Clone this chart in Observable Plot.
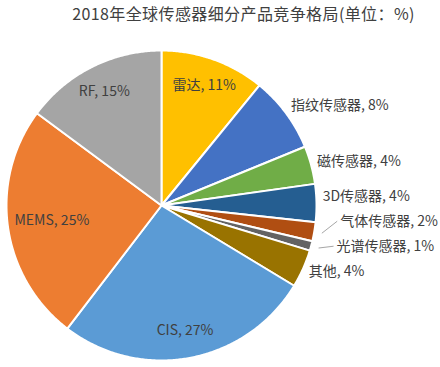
<!DOCTYPE html>
<html><head><meta charset="utf-8">
<script src="https://cdn.jsdelivr.net/npm/d3@7"></script>
<script src="https://cdn.jsdelivr.net/npm/@observablehq/plot@0.6"></script>
<style>
body{margin:0;background:#fff;font-family:"Noto Sans CJK SC",sans-serif;}
#title{width:440px;height:26px;line-height:26px;box-sizing:border-box;padding-left:47px;text-align:center;font-size:16px;letter-spacing:0.4px;color:#404040;white-space:nowrap;}
#chart svg{overflow:visible;display:block;}
</style></head><body>
<div id="title">2018年全球传感器细分产品竞争格局(单位：%)</div>
<div id="chart"></div>
<script>
// ---- data (clockwise from 12 o'clock) ----
const categories = ["雷达","指纹传感器","磁传感器","3D传感器","气体传感器","光谱传感器","其他","CIS","MEMS","RF"];
const shares = [11, 8, 4, 4, 2, 1, 4, 27, 25, 15];
// ---- styles ----
const colors = ["#FFC000","#4472C4","#70AD47","#255E91","#B04E12","#636363","#997300","#5B9BD5","#ED7D31","#A5A5A5"];

const W = 440, H = 341, R = 155, cx = 161, cy = 179;
const FONT = '"Noto Sans CJK SC", sans-serif';
const ctx = document.createElement("canvas").getContext("2d");
ctx.font = "14px " + FONT;
const tw = s => ctx.measureText(s).width;

const total = d3.sum(shares);
let acc = 0;
const slices = categories.map((name, i) => {
  const a0 = acc / total * 2 * Math.PI; acc += shares[i];
  const a1 = acc / total * 2 * Math.PI;
  return {name, value: shares[i], a0, a1, mid: (a0 + a1) / 2, label: `${name}, ${shares[i]}%`};
});

// wedge polygons in unit coordinates
const pts = [];
for (const s of slices) {
  pts.push({name: s.name, x: 0, y: 0});
  const n = Math.max(2, Math.ceil((s.a1 - s.a0) / (Math.PI / 360)));
  for (let k = 0; k <= n; k++) {
    const a = s.a0 + (s.a1 - s.a0) * k / n;
    pts.push({name: s.name, x: Math.sin(a), y: Math.cos(a)});
  }
  pts.push({name: s.name, x: 0, y: 0});
}

// label layout
const inside = [], outside = [], leaders = [];
for (const s of slices) {
  const sn = Math.sin(s.mid), cs = Math.cos(s.mid);
  if (s.value >= 10) {
    const w = tw(s.label), h = 14;
    let f = 0.82;
    if (Math.abs(sn) > 1e-6) f = Math.min(f, (R - 8 - w / 2) / (R * Math.abs(sn)));
    if (Math.abs(cs) > 1e-6) f = Math.min(f, (R - 8 - h / 2) / (R * Math.abs(cs)));
    inside.push({label: s.label, x: f * sn, y: f * cs});
  } else {
    const lead = s.value < 3;
    const rr = lead ? 1.17 : 1.04;
    const push = cs > 0 ? 7 * cs : 0;
    const o = {label: s.label, lead, mid: s.mid, x: rr * sn, py: cy - cs * rr * R - push};
    outside.push(o);
  }
}
// avoid overlaps (push upward)
outside.sort((a, b) => a.py - b.py);
for (let i = outside.length - 2; i >= 0; i--) {
  if (outside[i].py > outside[i + 1].py - 25) outside[i].py = outside[i + 1].py - 25;
}
for (const o of outside) {
  o.y = (cy - o.py) / R;
  if (o.lead) {
    leaders.push({x1: 1.05 * Math.sin(o.mid), y1: 1.05 * Math.cos(o.mid), x2: o.x - 3 / R, y2: o.y});
  }
}

const chart = Plot.plot({
  width: W, height: H,
  marginLeft: cx - R, marginRight: W - (cx + R),
  marginTop: cy - R, marginBottom: H - (cy + R),
  x: {domain: [-1, 1], axis: null},
  y: {domain: [-1, 1], axis: null},
  color: {domain: categories, range: colors},
  style: {fontFamily: FONT, fontSize: "14px", background: "white", overflow: "visible"},
  marks: [
    Plot.line(pts, {x: "x", y: "y", z: "name", fill: "name", stroke: "white", strokeWidth: 2, strokeLinejoin: "round", curve: "linear"}),
    Plot.link(leaders, {x1: "x1", y1: "y1", x2: "x2", y2: "y2", stroke: "#A6A6A6", strokeWidth: 1}),
    Plot.text(inside, {x: "x", y: "y", text: "label", fill: "#404040", fontSize: 14, textAnchor: "middle"}),
    Plot.text(outside, {x: "x", y: "y", text: "label", fill: "#404040", fontSize: 14, textAnchor: "start"})
  ]
});
document.getElementById("chart").appendChild(chart);
</script>
</body></html>
